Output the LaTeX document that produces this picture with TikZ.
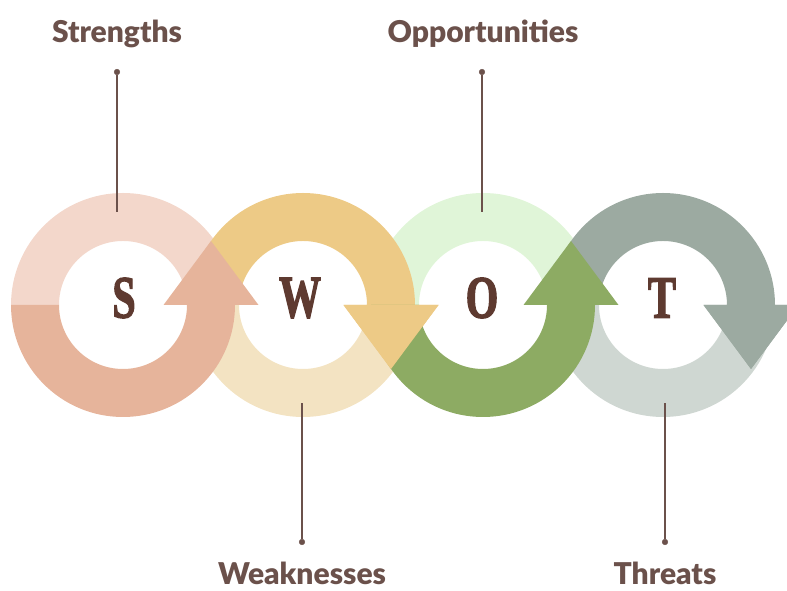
\documentclass[tikz,border=0pt]{standalone}
\usepackage{fontspec}
\setmainfont{Lato}
\newfontfamily\labelfont{Lato Black}
\newfontfamily\letterfont[FakeBold=2.5]{Liberation Serif Bold}

\definecolor{spale}{HTML}{F3D7CB}
\definecolor{sdeep}{HTML}{E6B49B}
\definecolor{wdeep}{HTML}{EDCA86}
\definecolor{wpale}{HTML}{F3E3C2}
\definecolor{opale}{HTML}{E0F5D8}
\definecolor{odeep}{HTML}{8DAB63}
\definecolor{tdeep}{HTML}{9CAAA1}
\definecolor{tpale}{HTML}{CFD7D2}
\definecolor{labelcol}{HTML}{6B514B}
\definecolor{lettercol}{HTML}{5E3A30}

\begin{document}
\begin{tikzpicture}[
    x=1pt,y=1pt,
    dot/.style={draw,labelcol,fill,circle,inner sep=2pt},
    lbl/.style={font=\labelfont\fontsize{30}{30}\selectfont,text=labelcol,anchor=base,inner sep=0pt},
    letter/.style={font=\letterfont\fontsize{60}{60}\selectfont,text=lettercol,inner sep=0pt,xscale=0.7,transform shape},
    stem/.style={labelcol,line width=1.3pt}
    ]
    \useasboundingbox (0, 0) rectangle (787, 591);
    \clip (0, 0) rectangle (787, 591);
    % pale halves
    \fill[spale] (11, 286) arc[start angle=180, end angle=0, radius=112] -- (187, 286) arc[start angle=0, end angle=180, radius=64] -- cycle;
    \fill[wpale] (191, 286) arc[start angle=180, end angle=360, radius=112] -- (367, 286) arc[start angle=0, end angle=-180, radius=64] -- cycle;
    \fill[opale] (371, 286) arc[start angle=180, end angle=0, radius=112] -- (547, 286) arc[start angle=0, end angle=180, radius=64] -- cycle;
    \fill[tpale] (551, 286) arc[start angle=180, end angle=360, radius=112] -- (727, 286) arc[start angle=0, end angle=-180, radius=64] -- cycle;
    % upper arrows
    \fill[wdeep] (191, 286) arc[start angle=180, end angle=0, radius=112] -- (438.5, 286) -- (391, 222) -- (343.5, 286) -- (367, 286) arc[start angle=0, end angle=180, radius=64] -- cycle;
    \fill[tdeep] (551, 286) arc[start angle=180, end angle=0, radius=112] -- (798.5, 286) -- (751, 222) -- (703.5, 286) -- (727, 286) arc[start angle=0, end angle=180, radius=64] -- cycle;
    % lower arrows
    \fill[sdeep] (11, 286) arc[start angle=180, end angle=360, radius=112] -- (258.5, 286) -- (211, 350) -- (163.5, 286) -- (187, 286) arc[start angle=0, end angle=-180, radius=64] -- cycle;
    \fill[odeep] (371, 286) arc[start angle=180, end angle=360, radius=112] -- (618.5, 286) -- (571, 350) -- (523.5, 286) -- (547, 286) arc[start angle=0, end angle=-180, radius=64] -- cycle;
    % heads on top
    \fill[wdeep] (343.5, 286) -- (438.5, 286) -- (391, 222) -- cycle;
    \fill[tdeep] (703.5, 286) -- (798.5, 286) -- (751, 222) -- cycle;
    % letters
    \node[letter] (s) at (124, 293) {S};
    \node[letter] (w) at (300, 293) {W};
    \node[letter] (o) at (482, 293) {O};
    \node[letter] (t) at (662, 293) {T};
    % labels
    \node[lbl] (strengths) at (117, 548) {Strengths};
    \node[lbl] (opportunities) at (483, 548) {Opportunities};
    \node[lbl] (weaknesses) at (302, 6) {Weaknesses};
    \node[lbl] (threats) at (665, 6) {Threats};
    \node[dot] (sdot) at (117, 519) {};
    \node[dot] (odot) at (482, 519) {};
    \node[dot] (wdot) at (302, 49) {};
    \node[dot] (tdot) at (665, 49) {};
    \coordinate (send) at (117, 379);
    \coordinate (oend) at (482, 379);
    \coordinate (wend) at (302, 188);
    \coordinate (tend) at (665, 188);
    \draw[stem] (sdot) -- (send);
    \draw[stem] (odot) -- (oend);
    \draw[stem] (wdot) -- (wend);
    \draw[stem] (tdot) -- (tend);
\end{tikzpicture}
\end{document}
